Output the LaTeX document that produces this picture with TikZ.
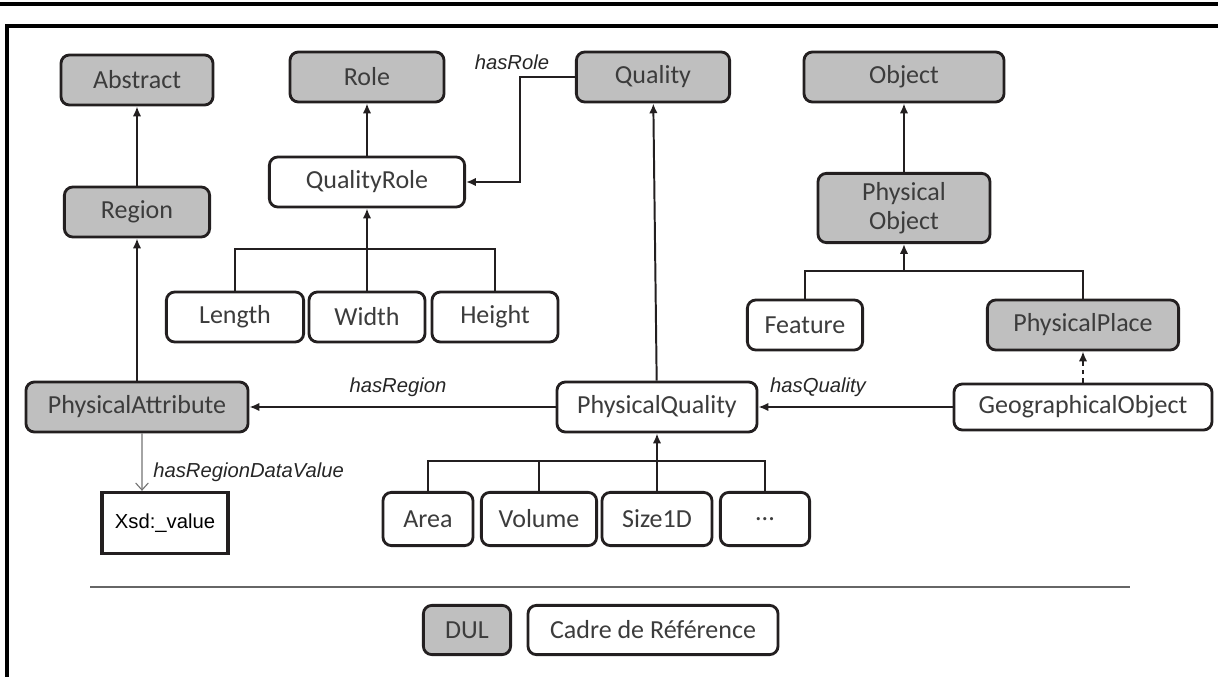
\documentclass[tikz,border=0pt]{standalone}
\usepackage{fontspec}
\setmainfont{Carlito}
\newfontfamily\lblfont{Liberation Sans}
\usetikzlibrary{arrows.meta}
\definecolor{dulgray}{RGB}{191,191,191}
\definecolor{edge}{RGB}{35,31,32}
\definecolor{boxtext}{RGB}{60,60,60}

\begin{document}
\begin{tikzpicture}[
  x=0.025cm, y=-0.025cm,
  >={Latex[length=7pt,width=6pt]},
  cls/.style={draw=edge, line width=2pt, rounded corners=6pt, fill=white,
    text=boxtext, font=\fontsize{18.5}{21}\selectfont, inner sep=1pt,
    minimum height=1.25cm, align=center},
  dul/.style={cls, fill=dulgray},
  lbl/.style={font=\lblfont\itshape\fontsize{14.4}{16}\selectfont,
    text=black!85, inner sep=0pt},
  link/.style={draw=edge, line width=1.4pt},
]
\useasboundingbox (0,0) rectangle (1218,677);

% --- Frame ---
\draw[line width=2.2pt] (0,4) -- (1218,4);
\draw[line width=2.2pt] (7,677) -- (7,26) -- (1218,26);

% --- Top row ---
\node[dul, minimum width=3.8cm]  (abstract) at (137,80)  {Abstract};
\node[dul, minimum width=3.85cm] (role)     at (367,77)  {Role};
\node[dul, minimum width=3.83cm] (quality)  at (653,77)  {Quality};
\node[dul, minimum width=5cm]    (object)   at (904,77)  {Object};

% --- Second row ---
\node[dul, minimum width=3.63cm] (region)  at (137,212) {Region};
\node[cls, minimum width=4.88cm] (qrole)   at (367,182) {QualityRole};
\node[dul, minimum width=4.3cm, minimum height=1.73cm]
  (pobject) at (904,208) {Physical\\Object};

% --- Roles of quality ---
\node[cls, minimum width=3.43cm] (length) at (235,317) {Length};
\node[cls, minimum width=2.9cm]  (width)  at (367,317) {Width};
\node[cls, minimum width=3.15cm] (height) at (495,317) {Height};

% --- Kinds of physical object ---
\node[cls, minimum width=2.88cm] (feature) at (805,325)  {Feature};
\node[dul, minimum width=4.78cm] (pplace)  at (1083,325) {PhysicalPlace};

% --- Middle row ---
\node[dul, minimum width=5.55cm] (pattr)    at (137,407)  {PhysicalAttribute};
\node[cls, minimum width=5cm]    (pquality) at (657,407)  {PhysicalQuality};
\node[cls, minimum width=6.45cm, minimum height=1.15cm]
  (geo) at (1083,407) {GeographicalObject};

% --- Data value ---
\node[cls, sharp corners, minimum width=3.15cm, minimum height=1.53cm,
  line width=2.2pt, text=black, font=\lblfont\fontsize{14.4}{16}\selectfont]
  (xsd) at (165,523) {Xsd:\_value};

% --- Kinds of physical quality ---
\node[cls, minimum width=2.25cm, minimum height=1.33cm] (area)   at (428,519) {Area};
\node[cls, minimum width=2.88cm, minimum height=1.33cm] (volume) at (539,519) {Volume};
\node[cls, minimum width=2.75cm, minimum height=1.33cm] (size)   at (657,519) {Size1D};
\node[cls, minimum width=2.23cm, minimum height=1.33cm] (dots)   at (765,519) {...};

% --- Subclass links ---
\draw[link, ->] (region) -- (abstract);
\draw[link, ->] (pattr) -- (region);
\draw[link, ->] (qrole) -- (role);
\draw[link, ->] (pobject) -- (object);
\draw[link, ->] (pquality) -- (quality);

\coordinate (qbar) at (367,249);
\draw[link] (length.north) |- (qbar) -| (height.north);
\draw[link, ->] (width) -- (qrole);

\coordinate (obar) at (904,271);
\draw[link] (feature.north) |- (obar) -| (pplace.north);
\draw[link, ->] (obar) -- (pobject.south);

\coordinate (pbar) at (657,461);
\draw[link] (area.north) |- (pbar) -| (dots.north);
\draw[link] (volume.north) -- (volume.north |- pbar);
\draw[link, ->] (size) -- (pquality);

\draw[link, dashed, ->] (geo.north) -- (pplace.south);

% --- Properties ---
\coordinate (rolebend) at (520,77);
\draw[link, ->] (quality.west) -- (rolebend) |- (qrole.east);
\node[lbl] (lrole) at (512,62) {hasRole};

\draw[link, ->] (pquality.west) -- (pattr.east);
\node[lbl] (lregion) at (398,387) {hasRegion};

\draw[link, ->] (geo.west) -- (pquality.east);
\node[lbl] (lquality) at (818,387) {hasQuality};

\draw[draw=black!55, line width=0.8pt, -{Straight Barb[length=5pt,width=9pt]}]
  ([xshift=0.125cm]pattr.south) -- ([xshift=-0.575cm]xsd.north);
\node[lbl, anchor=west] (ldata) at (153,472) {hasRegionDataValue};

% --- Legend ---
\draw[line width=1.5pt, black!60] (90,587) -- (1130,587);
\node[dul, minimum width=2.18cm, minimum height=1.23cm] (dul) at (467,630) {DUL};
\node[cls, minimum width=6.25cm, minimum height=1.23cm] (cadre) at (653,630)
  {Cadre de Référence};

\end{tikzpicture}
\end{document}
